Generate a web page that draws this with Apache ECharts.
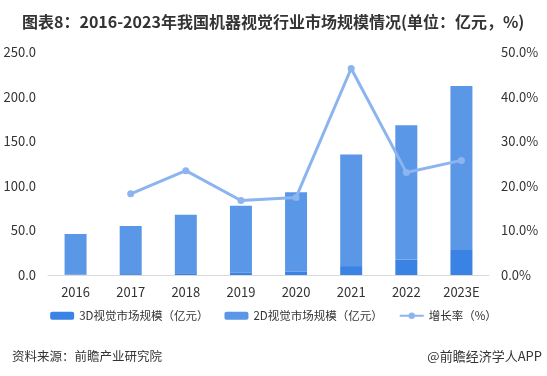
<!DOCTYPE html>
<html>
<head>
    <meta charset="utf-8">
    <title>机器视觉行业市场规模</title>
    <script src="https://cdn.jsdelivr.net/npm/echarts@6/dist/echarts.min.js"></script>
    <style>
        html, body { margin: 0; padding: 0; background: #fff; }
        #main { width: 547px; height: 376px; }
    </style>
</head>
<body>
    <div id="main"></div>
    <script>
        var years = ['2016', '2017', '2018', '2019', '2020', '2021', '2022', '2023E'];
        var size3D = [0.5, 1, 2, 3, 3.7, 10, 17, 28];
        var size2D = [45.5, 54, 65.6, 74.7, 89, 125, 151, 184];
        var growth = [null, 18.2, 23.4, 16.7, 17.4, 46.3, 23.0, 25.7];
        var leftTicks = [0, 50, 100, 150, 200, 250];
        var rightTicks = [0, 10, 20, 30, 40, 50];

        var font = '"Noto Sans CJK SC", "Noto Sans", sans-serif';
        var myChart = echarts.init(document.getElementById('main'));

        var option = {
            animation: false,
            textStyle: { fontFamily: font },
            title: [
                {
                    text: '图表8：2016-2023年我国机器视觉行业市场规模情况(单位：亿元，%)',
                    left: 17, top: 9,
                    textStyle: { fontSize: 16, fontWeight: 'bold', color: '#333', fontFamily: font }
                },
                {
                    text: '资料来源：前瞻产业研究院',
                    left: 7, top: 345,
                    textStyle: { fontSize: 12.5, fontWeight: 'normal', color: '#333', fontFamily: font }
                },
                {
                    text: '@前瞻经济学人APP',
                    right: 0, top: 345,
                    textStyle: { fontSize: 13, fontWeight: 'normal', color: '#333', fontFamily: font }
                }
            ],
            grid: { left: 48, right: 58, top: 52, bottom: 101 },
            legend: {
                top: 305,
                left: 'center',
                itemWidth: 24,
                itemHeight: 8,
                itemGap: 16,
                textStyle: { fontSize: 11.5, color: '#333' },
                data: ['3D视觉市场规模（亿元）', '2D视觉市场规模（亿元）', '增长率（%）']
            },
            xAxis: [{
                type: 'category',
                data: years,
                axisTick: { show: false },
                axisLine: { lineStyle: { color: '#d9d9d9' } },
                axisLabel: { color: '#333', fontSize: 13, margin: 11 }
            }],
            yAxis: [
                {
                    type: 'value',
                    min: leftTicks[0], max: leftTicks[leftTicks.length - 1], interval: 50,
                    splitLine: { show: false },
                    axisLine: { show: false },
                    axisTick: { show: false },
                    axisLabel: { color: '#333', fontSize: 13, margin: 12, formatter: function (v) { return v.toFixed(1); } }
                },
                {
                    type: 'value',
                    min: rightTicks[0], max: rightTicks[rightTicks.length - 1], interval: 10,
                    splitLine: { show: false },
                    axisLine: { show: false },
                    axisTick: { show: false },
                    axisLabel: { color: '#333', fontSize: 13, margin: 12, formatter: function (v) { return v.toFixed(1) + '%'; } }
                }
            ],
            series: [
                {
                    name: '3D视觉市场规模（亿元）',
                    type: 'bar',
                    stack: 'size',
                    barWidth: 22,
                    itemStyle: { color: '#3a82e4' },
                    data: size3D
                },
                {
                    name: '2D视觉市场规模（亿元）',
                    type: 'bar',
                    stack: 'size',
                    barWidth: 22,
                    itemStyle: { color: '#5a97e7' },
                    data: size2D
                },
                {
                    name: '增长率（%）',
                    type: 'line',
                    yAxisIndex: 1,
                    symbol: 'circle',
                    symbolSize: 7,
                    lineStyle: { width: 3, color: '#8cb4ef' },
                    itemStyle: { color: '#8cb4ef' },
                    data: growth
                }
            ]
        };
        myChart.setOption(option);
    </script>
</body>
</html>
